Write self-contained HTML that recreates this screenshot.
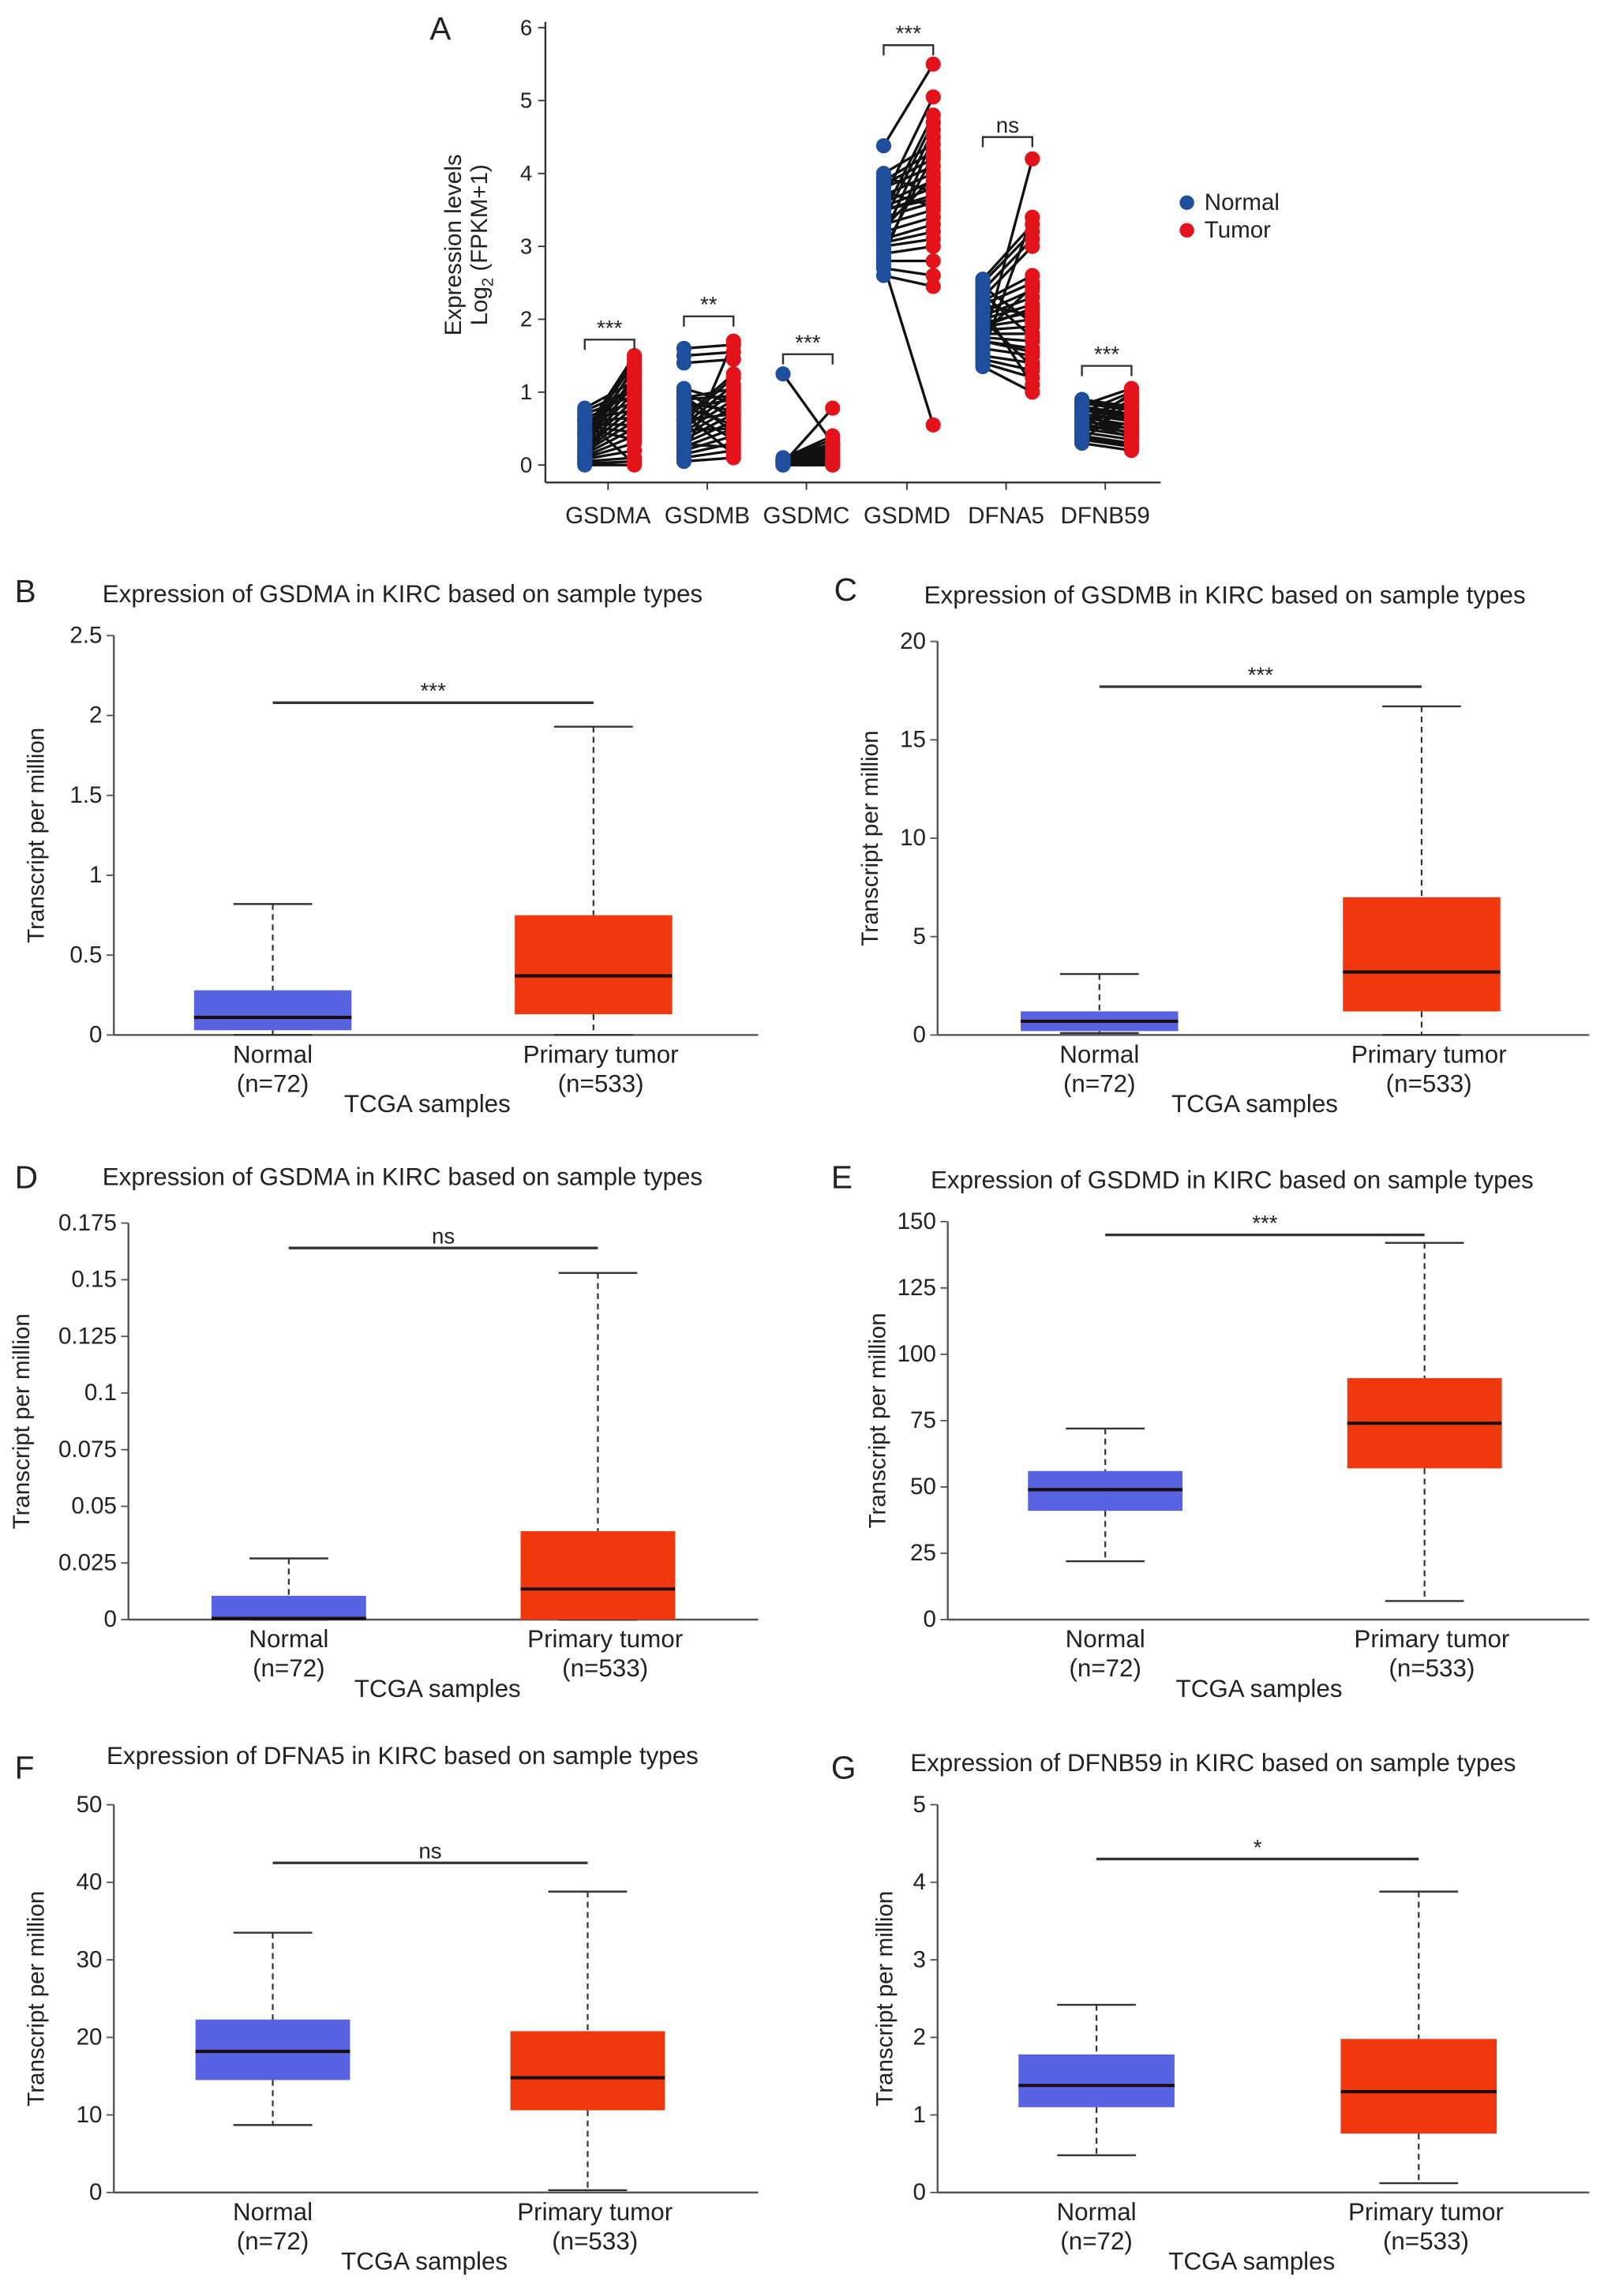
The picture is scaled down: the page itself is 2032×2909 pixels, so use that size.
<!DOCTYPE html>
<html><head><meta charset="utf-8">
<style>
html,body{margin:0;padding:0;background:#fff;}
svg{display:block;font-family:"Liberation Sans",Arial,sans-serif;}
</style></head>
<body>
<svg id="fig" width="2032" height="2909" viewBox="0 0 1100 1575" xmlns="http://www.w3.org/2000/svg"></svg>
<script>
// ---------- Panel A data ----------
const genesA = ["GSDMA","GSDMB","GSDMC","GSDMD","DFNA5","DFNB59"];
const sigA = ["***","**","***","***","ns","***"];
const sigAy = [1.72,2.04,1.52,5.76,4.5,1.36];
const ticksA = [0,1,2,3,4,5,6];
const normalA = [
 [0,0.02,0.05,0.08,0.1,0.12,0.15,0.18,0.2,0.23,0.26,0.3,0.33,0.36,0.4,0.43,0.46,0.5,0.53,0.56,0.6,0.63,0.66,0.7,0.74,0.78,0.04,0.28,0.45,0.62],
 [0.05,0.1,0.15,0.2,0.25,0.3,0.35,0.4,0.45,0.5,0.55,0.6,0.65,0.7,0.75,0.8,0.85,0.9,0.95,1.0,1.05,1.4,1.5,1.6,0.12,0.28,0.48,0.62,0.78,0.92],
 [0,0.01,0.02,0.03,0.04,0.05,0.06,0.07,0.08,0.09,0.1,1.25,0.02,0.04,0.06,0.0,0.03,0.05,0.08,0.01],
 [2.6,2.7,2.8,2.9,3.0,3.05,3.1,3.2,3.3,3.4,3.5,3.55,3.6,3.7,3.8,3.85,3.9,4.0,4.38,2.75,2.85,3.15,3.35,3.45,3.65,3.75,3.95,3.25,2.95,3.5],
 [1.35,1.4,1.45,1.5,1.6,1.7,1.75,1.8,1.85,1.9,1.95,2.0,2.05,2.1,2.2,2.25,2.3,2.4,2.5,2.55,1.55,1.65,2.15,2.35,2.45,1.9,1.8,2.0,1.7,2.2],
 [0.3,0.35,0.4,0.45,0.5,0.55,0.6,0.65,0.7,0.75,0.8,0.85,0.9,0.42,0.52,0.62,0.72,0.82,0.38,0.58,0.68,0.48,0.78,0.88,0.33,0.55,0.64,0.7,0.5,0.6]
];
const tumorA = [
 [0,0.05,0.1,0.2,0.3,0.4,0.5,0.6,0.7,0.8,0.9,1.0,1.1,1.2,1.3,1.4,1.5,0.35,0.45,0.55,0.65,0.75,0.85,0.95,1.05,1.15,1.25,1.35,1.45,0.02],
 [0.1,0.2,0.3,0.4,0.5,0.6,0.7,0.8,0.9,1.0,1.1,1.2,1.25,0.15,0.35,0.55,0.75,0.95,0.45,0.65,0.85,1.45,1.55,1.65,1.7,0.25,0.5,0.7,0.9,1.05],
 [0,0.02,0.05,0.1,0.15,0.2,0.25,0.3,0.35,0.4,0.05,0.3,0.78,0.12,0.18,0.0,0.22,0.28,0.08,0.04],
 [2.45,2.6,2.8,3.0,3.1,3.2,3.3,3.4,3.5,3.6,3.7,3.8,3.9,4.0,4.1,4.2,4.3,4.4,5.5,0.55,4.5,4.6,4.7,4.8,5.05,3.55,3.75,3.95,4.25,3.65],
 [1.0,1.2,1.3,1.4,1.5,1.6,1.7,1.8,1.9,2.0,2.1,2.2,2.3,2.4,2.5,2.6,3.0,3.1,3.2,3.3,3.4,4.2,1.1,1.75,1.95,2.15,2.45,1.35,1.55,2.05],
 [0.2,0.25,0.3,0.35,0.4,0.45,0.5,0.55,0.6,0.65,0.7,0.75,0.8,0.85,0.9,0.95,1.0,1.05,0.28,0.38,0.48,0.58,0.68,0.78,0.88,0.98,0.42,0.62,0.52,0.72]
];

// ---------- Box panel data ----------
const boxTitles = ["Expression of GSDMA in KIRC based on sample types","Expression of GSDMB in KIRC based on sample types","Expression of GSDMA in KIRC based on sample types","Expression of GSDMD in KIRC based on sample types","Expression of DFNA5 in KIRC based on sample types","Expression of DFNB59 in KIRC based on sample types"];
const boxLetters = ["B","C","D","E","F","G"];
const boxSig = ["***","***","ns","***","ns","*"];
const boxSigY = [2.08,17.7,0.164,145,42.5,4.3];
const boxYMax = [2.5,20,0.175,150,50,5];
const boxTicks = [
 ["0","0.5","1","1.5","2","2.5"],
 ["0","5","10","15","20"],
 ["0","0.025","0.05","0.075","0.1","0.125","0.15","0.175"],
 ["0","25","50","75","100","125","150"],
 ["0","10","20","30","40","50"],
 ["0","1","2","3","4","5"]
];
// [min, q1, median, q3, max]
const normalBox = [[0,0.03,0.11,0.28,0.82],[0.1,0.2,0.7,1.2,3.1],[0,0,0.0005,0.0105,0.027],[22,41,49,56,72],[8.7,14.5,18.2,22.3,33.5],[0.48,1.1,1.38,1.78,2.42]];
const tumorBox = [[0,0.13,0.37,0.75,1.93],[0,1.2,3.2,7.0,16.7],[0,0,0.0135,0.039,0.153],[7,57,74,91,142],[0.3,10.6,14.8,20.8,38.8],[0.12,0.76,1.3,1.98,3.88]];
const categories = ["Normal","Primary tumor"];
const counts = ["(n=72)","(n=533)"];

// ---------- helpers ----------
const NS="http://www.w3.org/2000/svg";
const svg=document.getElementById('fig');
function mk(tag, attrs, name, parent){
  const el=document.createElementNS(NS,tag);
  for(const k in attrs) el.setAttribute(k,attrs[k]);
  
  
  (parent||svg).appendChild(el);
  return el;
}
function txt(x,y,s,size,name,anchor,parent,extra){
  const t=mk('text',Object.assign({x:x,y:y,'font-size':size,'text-anchor':anchor||'middle',fill:'#222'},extra||{}),name,parent);
  t.textContent=s; return t;
}

// ---------- Panel A ----------
(function(){
  const g=mk('g',{},'panel-a');
  const ax=374, y0=319, pu=50;
  const yS=v=>y0-v*pu;
  const cx=[417,485,553,622,690,758];
  txt(302,27,'A',22,'panel-label-a','middle',g);
  mk('line',{x1:ax,y1:15,x2:ax,y2:331,stroke:'#333','stroke-width':1.3},'y-axis',g);
  mk('line',{x1:ax,y1:331,x2:796,y2:331,stroke:'#333','stroke-width':1.3},'x-axis',g);
  ticksA.forEach(v=>{
    mk('line',{x1:ax-5,y1:yS(v),x2:ax,y2:yS(v),stroke:'#333'},'y-tick',g);
    txt(ax-9,yS(v)+5,String(v),15,'y-tick-label','end',g);
  });
  const yt=mk('text',{transform:'translate(316,168) rotate(-90)','font-size':16,'text-anchor':'middle',fill:'#222'},'y-axis-title',g);
  yt.textContent='Expression levels';
  const yt2=mk('text',{transform:'translate(334,168) rotate(-90)','font-size':16,'text-anchor':'middle',fill:'#222'},'y-axis-title-2',g);
  yt2.innerHTML='Log<tspan font-size="11" dy="4">2</tspan><tspan dy="-4"> (FPKM+1)</tspan>';
  genesA.forEach((gn,i)=>{
    const nx=cx[i]-16, tx=cx[i]+18;
    mk('line',{x1:cx[i],y1:331,x2:cx[i],y2:336,stroke:'#333'},'x-tick',g);
    txt(cx[i],359,gn,16,'x-tick-label','middle',g);
    const gg=mk('g',{},'series-'+gn.toLowerCase(),g);
    normalA[i].forEach((v,j)=>{
      mk('line',{x1:nx,y1:yS(v),x2:tx,y2:yS(tumorA[i][j]),stroke:'#111','stroke-width':1.8},'pair-line',gg);
    });
    normalA[i].forEach(v=>{ mk('circle',{cx:nx,cy:yS(v),r:5.2,fill:'#1f4e9c'},'normal-point',gg); });
    tumorA[i].forEach(v=>{ mk('circle',{cx:tx,cy:yS(v),r:5.2,fill:'#e3131b'},'tumor-point',gg); });
    const by=yS(sigAy[i]);
    mk('path',{d:`M${nx},${by+7}V${by}H${tx}V${by+7}`,fill:'none',stroke:'#333','stroke-width':1.3},'significance-bracket',g);
    txt((nx+tx)/2,by-3,sigA[i],15,'significance-label','middle',g);
  });
  mk('circle',{cx:814,cy:139,r:5,fill:'#1f4e9c'},'legend-marker-normal',g);
  txt(826,144,'Normal',16,'legend-entry-normal','start',g);
  mk('circle',{cx:814,cy:158,r:5,fill:'#e3131b'},'legend-marker-tumor',g);
  txt(826,163,'Tumor',16,'legend-entry-tumor','start',g);
})();

// ---------- Box panels ----------
const layout=[
 {ax:78,top:436,bot:710,nc:187,tc:407,w:108,right:520,tx:276,ty:413,lx:10,ly:413,yl:30},
 {ax:643,top:440,bot:710,nc:754,tc:975,w:108,right:1090,tx:840,ty:414,lx:572,ly:412,yl:602},
 {ax:88,top:839,bot:1111,nc:198,tc:410,w:106,right:520,tx:276,ty:813,lx:10,ly:815,yl:20},
 {ax:650,top:838,bot:1111,nc:758,tc:977,w:106,right:1090,tx:845,ty:815,lx:570,ly:815,yl:607},
 {ax:78,top:1238,bot:1504,nc:187,tc:403,w:106,right:520,tx:276,ty:1210,lx:10,ly:1220,yl:30},
 {ax:643,top:1238,bot:1504,nc:752,tc:973,w:107,right:1090,tx:832,ty:1215,lx:570,ly:1220,yl:612}
];
boxTitles.forEach((title,i)=>{
  const L=layout[i];
  const g=mk('g',{},'panel-'+boxLetters[i].toLowerCase());
  const yS=v=>L.bot-(v/boxYMax[i])*(L.bot-L.top);
  txt(L.lx,L.ly,boxLetters[i],22,'panel-label','start',g);
  txt(L.tx,L.ty,title,17,'chart-title','middle',g);
  mk('line',{x1:L.ax,y1:L.top,x2:L.ax,y2:L.bot,stroke:'#555','stroke-width':1.3},'y-axis',g);
  mk('line',{x1:L.ax,y1:L.bot,x2:L.right,y2:L.bot,stroke:'#555','stroke-width':1.3},'x-axis',g);
  boxTicks[i].forEach(s=>{
    const v=parseFloat(s);
    mk('line',{x1:L.ax-5,y1:yS(v),x2:L.ax,y2:yS(v),stroke:'#555'},'y-tick',g);
    txt(L.ax-8,yS(v)+5,s,16,'y-tick-label','end',g);
  });
  const yt=mk('text',{transform:`translate(${L.yl},${(L.top+L.bot)/2}) rotate(-90)`,'font-size':16,'text-anchor':'middle',fill:'#222'},'y-axis-title',g);
  yt.textContent='Transcript per million';
  [[normalBox[i],L.nc,'#5763e0','normal'],[tumorBox[i],L.tc,'#f0380f','tumor']].forEach(([b,c,col,nm],k)=>{
    const bg=mk('g',{},'box-'+nm,g);
    mk('line',{x1:c,y1:yS(b[4]),x2:c,y2:yS(b[3]),stroke:'#333','stroke-dasharray':'4,3','stroke-width':1.2},'upper-whisker',bg);
    mk('line',{x1:c,y1:yS(b[1]),x2:c,y2:yS(b[0]),stroke:'#333','stroke-dasharray':'4,3','stroke-width':1.2},'lower-whisker',bg);
    mk('line',{x1:c-27,y1:yS(b[4]),x2:c+27,y2:yS(b[4]),stroke:'#333','stroke-width':1.3},'max-cap',bg);
    mk('line',{x1:c-27,y1:yS(b[0]),x2:c+27,y2:yS(b[0]),stroke:'#333','stroke-width':1.3},'min-cap',bg);
    mk('rect',{x:c-L.w/2,y:yS(b[3]),width:L.w,height:Math.max(0,yS(b[1])-yS(b[3])),fill:col},'iqr-box',bg);
    mk('line',{x1:c-L.w/2,y1:yS(b[2]),x2:c+L.w/2,y2:yS(b[2]),stroke:'#1a0d0d','stroke-width':2.2},'median-line',bg);
    txt(c+(k?5:0),L.bot+19,categories[k],17,'x-category-label','middle',g);
    txt(c+(k?5:0),L.bot+39,counts[k],17,'x-count-label','middle',g);
  });
  const sy=yS(boxSigY[i]);
  mk('line',{x1:L.nc,y1:sy,x2:L.tc,y2:sy,stroke:'#333','stroke-width':1.8},'significance-line',g);
  txt((L.nc+L.tc)/2,sy-3,boxSig[i],15,'significance-label','middle',g);
  txt((L.nc+L.tc)/2-4,L.bot+53,'TCGA samples',17,'x-axis-title','middle',g);
});
</script>
</body></html>
